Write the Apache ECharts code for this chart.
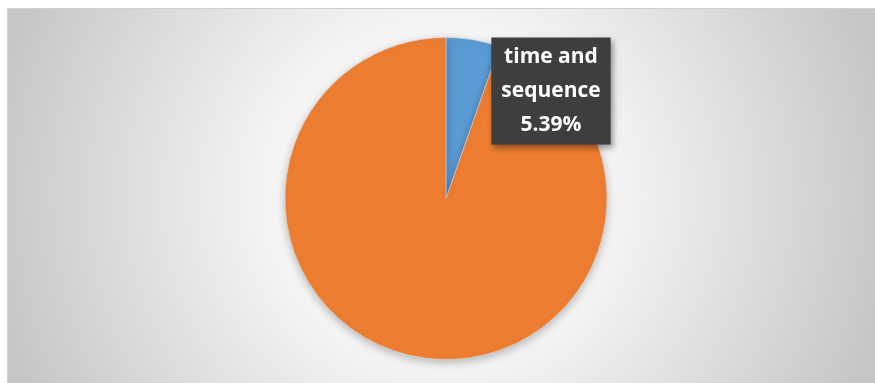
<!DOCTYPE html>
<html><head><meta charset="utf-8">
<script src="https://cdn.jsdelivr.net/npm/echarts@6/dist/echarts.min.js"></script>
<style>html,body{margin:0;padding:0;background:#fff}#c{width:875px;height:383px}</style>
</head><body><div id="c"></div>
<script>
const categories = ['time and sequence', 'other'];
const values = [5.39, 94.61];
const colors = ['#5B9BD5', '#ED7D31'];

const chart = echarts.init(document.getElementById('c'));
chart.setOption({
  animation: false,
  graphic: [{
    type: 'rect', z: -10, silent: true,
    shape: { x: 7.5, y: 8.5, width: 900, height: 400 },
    style: {
      fill: { type: 'radial', global: true, x: 440, y: 195, r: 455,
        colorStops: [
          { offset: 0, color: '#ffffff' }, { offset: 0.2, color: '#fcfcfc' },
          { offset: 0.38, color: '#f4f4f4' }, { offset: 0.53, color: '#e9e9e9' },
          { offset: 0.76, color: '#d8d8d8' }, { offset: 1, color: '#c6c6c6' }] },
      stroke: '#d0d0d0', lineWidth: 1
    }
  }],
  series: [{
    type: 'pie',
    center: [446, 198.5],
    radius: 161,
    startAngle: 90,
    clockwise: true,
    data: categories.map((c, i) => ({
      name: c, value: values[i],
      itemStyle: { color: colors[i] },
      label: { show: i === 0 }
    })),
    itemStyle: { borderColor: '#d8d8d8', borderWidth: 0.6, shadowBlur: 8, shadowColor: 'rgba(0,0,0,0.25)', shadowOffsetY: 3 },
    labelLine: { show: false },
    label: {
      position: 'inside',
      formatter: p => 'time and\nsequence\n' + p.percent.toFixed(2) + '%',
      color: '#ffffff',
      fontFamily: 'Open Sans',
      fontWeight: 'bold',
      fontSize: 21,
      lineHeight: 34,
      align: 'center',
      backgroundColor: '#3e3e3e',
      padding: [3, 10, 2, 10],
      shadowBlur: 6, shadowColor: 'rgba(0,0,0,0.4)', shadowOffsetX: 2, shadowOffsetY: 3
    },
    labelLayout: { x: 551, y: 91, align: 'center', verticalAlign: 'middle' }
  }]
});
</script></body></html>
